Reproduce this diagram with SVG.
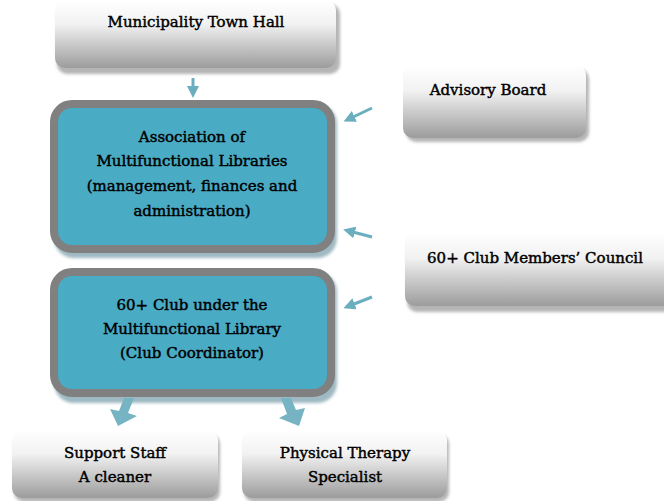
<svg xmlns="http://www.w3.org/2000/svg" width="664" height="501" viewBox="0 0 664 501">
  <defs>
    <linearGradient id="greyFill" x1="0" y1="0" x2="0" y2="1">
      <stop offset="0" stop-color="#ffffff"/>
      <stop offset="0.35" stop-color="#f2f2f2"/>
      <stop offset="1" stop-color="#9c9c9c"/>
    </linearGradient>
    <filter id="soft" x="-10%" y="-10%" width="120%" height="130%">
      <feGaussianBlur stdDeviation="1.5"/>
    </filter>
    <marker id="head" viewBox="0 0 10 10" refX="5" refY="5" markerWidth="4" markerHeight="4" orient="auto">
      <path d="M0,0 L10,5 L0,10 z" fill="#6aaebf"/>
    </marker>
  </defs>
  <style>
    .shadow { fill: #b5b5b5; filter: url(#soft); }
    .grey { fill: url(#greyFill); }
    .tealShadow { fill: #9fb9c2; filter: url(#soft); }
    .teal { fill: #4aabc5; stroke: #808080; stroke-width: 8; }
    .lbl { font-family: "DejaVu Serif", "Liberation Serif", serif; font-size: 15px; fill: #000; stroke: #000; stroke-width: 0.45; text-anchor: middle; }
    .thin { stroke: #6aaebf; stroke-width: 3; fill: none; marker-end: url(#head); }
    .block { fill: #76b4c3; }
  </style>

  <g id="town-hall">
    <rect class="shadow" x="57" y="4" width="283" height="70" rx="10"/>
    <rect class="grey" x="55" y="0" width="281" height="68" rx="10"/>
    <text class="lbl" x="196" y="27">Municipality Town Hall</text>
  </g>

  <g id="association">
    <rect class="tealShadow" x="54" y="104" width="283" height="154" rx="20"/>
    <rect class="teal" x="54" y="104" width="277" height="145" rx="18"/>
    <text class="lbl" x="192" y="142">Association of</text>
    <text class="lbl" x="192" y="166">Multifunctional Libraries</text>
    <text class="lbl" x="192" y="191">(management, finances and</text>
    <text class="lbl" x="192" y="216">administration)</text>
  </g>

  <g id="club">
    <rect class="tealShadow" x="54" y="272" width="283" height="131" rx="20"/>
    <rect class="teal" x="54" y="272" width="277" height="121" rx="18"/>
    <text class="lbl" x="192" y="310">60+ Club under the</text>
    <text class="lbl" x="192" y="334">Multifunctional Library</text>
    <text class="lbl" x="192" y="358">(Club Coordinator)</text>
  </g>

  <g id="advisory-board">
    <rect class="shadow" x="406" y="69" width="183" height="73" rx="10"/>
    <rect class="grey" x="403" y="65" width="183" height="73" rx="10"/>
    <text class="lbl" x="488" y="95">Advisory Board</text>
  </g>

  <g id="members-council">
    <rect class="shadow" x="407" y="236" width="270" height="76" rx="10"/>
    <rect class="grey" x="405" y="232" width="270" height="74" rx="10"/>
    <text class="lbl" x="535" y="263">60+ Club Members’ Council</text>
  </g>

  <g id="support-staff">
    <rect class="shadow" x="14" y="434" width="206" height="68" rx="10"/>
    <rect class="grey" x="12" y="430" width="206" height="68" rx="10"/>
    <text class="lbl" x="115" y="458">Support Staff</text>
    <text class="lbl" x="115" y="482">A cleaner</text>
  </g>

  <g id="therapist">
    <rect class="shadow" x="244" y="434" width="205" height="68" rx="10"/>
    <rect class="grey" x="242" y="430" width="205" height="68" rx="10"/>
    <text class="lbl" x="345" y="458">Physical Therapy</text>
    <text class="lbl" x="345" y="482">Specialist</text>
  </g>

  <g id="connectors">
    <line class="thin" x1="193" y1="78" x2="193" y2="92"/>
    <line class="thin" x1="372" y1="108" x2="349" y2="119"/>
    <line class="thin" x1="372" y1="237" x2="349" y2="231"/>
    <line class="thin" x1="372" y1="297" x2="349" y2="306"/>
    <path class="block" d="M124,398 L134,398 L128,413 L137,416 L118,426 L110,409 L119,411 z"/>
    <path class="block" d="M281,398 L291,398 L296,410 L305,408 L299,426 L279,418 L287,414 z"/>
  </g>
</svg>
